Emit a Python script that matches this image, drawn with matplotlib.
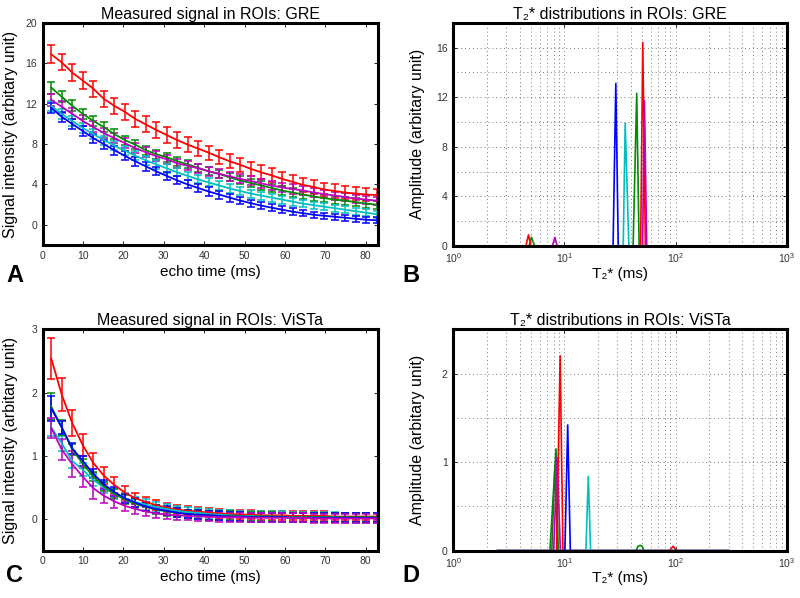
import matplotlib
matplotlib.use("Agg")
import matplotlib.pyplot as plt
from matplotlib.ticker import MultipleLocator, LogLocator, NullFormatter

plt.rcParams['font.family'] = ['Liberation Sans', 'DejaVu Sans']

# echo times (ms)
te = [2.1, 4.7, 7.3, 9.9, 12.5, 15.1, 17.7, 20.3, 22.9, 25.5, 28.1, 30.7,
      33.3, 35.9, 38.5, 41.1, 43.7, 46.3, 48.9, 51.5, 54.1, 56.7, 59.3, 61.9,
      64.5, 67.1, 69.7, 72.3, 74.9, 77.5, 80.1, 82.7]

# --- GRE measured signal (panel A) ---
gre_red = [16.9, 16.1, 15.1, 14.3, 13.5, 12.5, 11.8, 11.2, 10.5, 9.95, 9.4, 8.9,
           8.4, 7.95, 7.55, 7.15, 6.7, 6.3, 5.95, 5.55, 5.2, 4.9, 4.55, 4.25,
           3.95, 3.75, 3.5, 3.35, 3.2, 3.1, 3.0, 2.95]
gre_red_err = [0.9, 0.8, 0.8, 0.8, 0.8, 0.8, 0.8, 0.8, 0.8, 0.8, 0.8, 0.75,
               0.75, 0.75, 0.75, 0.7, 0.7, 0.7, 0.7, 0.7, 0.7, 0.7, 0.7, 0.7,
               0.7, 0.7, 0.65, 0.65, 0.65, 0.6, 0.6, 0.6]
gre_green = [13.6, 12.7, 11.8, 11.0, 10.3, 9.7, 9.0, 8.4, 7.95, 7.4, 7.0, 6.7,
             6.3, 6.0, 5.65, 5.3, 5.05, 4.7, 4.4, 4.15, 3.9, 3.65, 3.4, 3.2,
             3.0, 2.8, 2.65, 2.5, 2.4, 2.25, 2.1, 2.0]
gre_green_err = [0.6, 0.55, 0.55, 0.5, 0.5, 0.5, 0.5, 0.45, 0.45, 0.45, 0.45, 0.45,
                 0.45, 0.4, 0.4, 0.4, 0.4, 0.4, 0.4, 0.4, 0.4, 0.4, 0.4, 0.4,
                 0.4, 0.4, 0.4, 0.4, 0.4, 0.4, 0.4, 0.4]
gre_magenta = [12.4, 11.7, 11.0, 10.3, 9.7, 9.1, 8.6, 8.1, 7.6, 7.2, 6.8, 6.5,
               6.1, 5.85, 5.6, 5.3, 5.05, 4.8, 4.55, 4.35, 4.1, 3.9, 3.7, 3.55,
               3.4, 3.2, 3.05, 2.9, 2.75, 2.6, 2.5, 2.4]
gre_magenta_err = [0.6, 0.6, 0.55, 0.55, 0.55, 0.5, 0.5, 0.5, 0.5, 0.5, 0.5, 0.45,
                   0.45, 0.45, 0.45, 0.45, 0.45, 0.45, 0.45, 0.45, 0.45, 0.45, 0.45, 0.45,
                   0.45, 0.45, 0.4, 0.4, 0.4, 0.4, 0.4, 0.4]
gre_cyan = [11.8, 11.0, 10.3, 9.6, 9.0, 8.4, 7.85, 7.35, 6.85, 6.4, 6.0, 5.6,
            5.2, 4.85, 4.5, 4.2, 3.9, 3.6, 3.35, 3.1, 2.9, 2.7, 2.5, 2.3,
            2.1, 1.95, 1.8, 1.65, 1.5, 1.35, 1.2, 1.05]
gre_cyan_err = [0.5, 0.5, 0.5, 0.5, 0.45, 0.45, 0.45, 0.45, 0.45, 0.45, 0.45, 0.45,
                0.4, 0.4, 0.4, 0.4, 0.4, 0.4, 0.4, 0.4, 0.4, 0.4, 0.4, 0.4,
                0.35, 0.35, 0.35, 0.35, 0.35, 0.35, 0.35, 0.35]
gre_blue = [11.6, 10.7, 10.0, 9.3, 8.6, 8.0, 7.4, 6.85, 6.3, 5.8, 5.3, 4.85,
            4.4, 4.0, 3.65, 3.3, 3.0, 2.7, 2.4, 2.15, 1.9, 1.7, 1.5, 1.3,
            1.15, 1.0, 0.9, 0.8, 0.7, 0.6, 0.5, 0.45]
gre_blue_err = [0.5, 0.5, 0.5, 0.45, 0.45, 0.45, 0.45, 0.45, 0.45, 0.45, 0.4, 0.4,
                0.4, 0.4, 0.4, 0.4, 0.4, 0.4, 0.35, 0.35, 0.35, 0.35, 0.35, 0.35,
                0.3, 0.3, 0.3, 0.3, 0.3, 0.3, 0.3, 0.3]

# --- ViSTa measured signal (panel C) ---
vis_red = [2.54, 1.97, 1.52, 1.17, 0.89, 0.69, 0.54, 0.42, 0.33, 0.27, 0.22, 0.18,
           0.15, 0.13, 0.12, 0.1, 0.09, 0.08, 0.07, 0.07, 0.06, 0.06, 0.06, 0.05,
           0.05, 0.05, 0.05, 0.04, 0.04, 0.04, 0.04, 0.04]
vis_red_err = [0.33, 0.26, 0.2, 0.17, 0.16, 0.14, 0.12, 0.1, 0.09, 0.08, 0.08, 0.08,
               0.07, 0.07, 0.07, 0.07, 0.07, 0.07, 0.07, 0.07, 0.07, 0.07, 0.07, 0.07,
               0.07, 0.07, 0.07, 0.06, 0.06, 0.06, 0.06, 0.06]
vis_green = [1.78, 1.45, 1.1, 0.88, 0.67, 0.52, 0.4, 0.31, 0.24, 0.19, 0.15, 0.12,
             0.1, 0.08, 0.07, 0.06, 0.05, 0.05, 0.04, 0.04, 0.04, 0.04, 0.03, 0.03,
             0.03, 0.03, 0.03, 0.03, 0.03, 0.03, 0.03, 0.03]
vis_green_err = [0.22, 0.12, 0.08, 0.07, 0.07, 0.07, 0.07, 0.07, 0.07, 0.07, 0.07, 0.07,
                 0.07, 0.07, 0.07, 0.07, 0.07, 0.07, 0.07, 0.07, 0.07, 0.07, 0.07, 0.07,
                 0.07, 0.07, 0.07, 0.07, 0.07, 0.07, 0.07, 0.07]
vis_blue = [1.75, 1.45, 1.12, 0.92, 0.72, 0.55, 0.43, 0.33, 0.26, 0.2, 0.16, 0.13,
            0.1, 0.08, 0.07, 0.06, 0.05, 0.04, 0.04, 0.03, 0.03, 0.03, 0.03, 0.02,
            0.02, 0.02, 0.02, 0.02, 0.02, 0.02, 0.02, 0.02]
vis_blue_err = [0.2, 0.1, 0.09, 0.08, 0.07, 0.07, 0.07, 0.07, 0.07, 0.07, 0.07, 0.07,
                0.07, 0.07, 0.07, 0.07, 0.07, 0.07, 0.07, 0.07, 0.07, 0.07, 0.07, 0.07,
                0.07, 0.07, 0.07, 0.07, 0.07, 0.07, 0.07, 0.07]
vis_cyan = [1.45, 1.2, 0.92, 0.78, 0.62, 0.5, 0.4, 0.33, 0.27, 0.23, 0.19, 0.16,
            0.13, 0.11, 0.1, 0.08, 0.07, 0.06, 0.05, 0.05, 0.04, 0.04, 0.04, 0.03,
            0.03, 0.03, 0.03, 0.03, 0.02, 0.02, 0.02, 0.02]
vis_cyan_err = [0.13, 0.12, 0.11, 0.1, 0.09, 0.08, 0.08, 0.08, 0.08, 0.08, 0.08, 0.08,
                0.08, 0.08, 0.08, 0.08, 0.08, 0.08, 0.08, 0.08, 0.08, 0.08, 0.08, 0.08,
                0.08, 0.08, 0.08, 0.08, 0.08, 0.08, 0.08, 0.08]
vis_magenta = [1.44, 1.1, 0.87, 0.67, 0.49, 0.37, 0.28, 0.21, 0.16, 0.12, 0.09, 0.07,
               0.06, 0.05, 0.04, 0.04, 0.03, 0.03, 0.03, 0.02, 0.02, 0.02, 0.02, 0.02,
               0.02, 0.01, 0.01, 0.01, 0.01, 0.01, 0.01, 0.01]
vis_magenta_err = [0.16, 0.16, 0.21, 0.17, 0.17, 0.12, 0.1, 0.08, 0.08, 0.07, 0.07, 0.07,
                   0.07, 0.07, 0.07, 0.07, 0.07, 0.07, 0.07, 0.07, 0.07, 0.07, 0.07, 0.07,
                   0.07, 0.07, 0.07, 0.07, 0.07, 0.07, 0.07, 0.07]

# --- T2* distributions, GRE (panel B) ---
gre_dist_blue_t2 = [2.5, 27.4, 29.0, 30.5, 300]
gre_dist_blue = [0, 0, 13.1, 0, 0]
gre_dist_cyan_t2 = [2.5, 33.8, 35.2, 38.0, 300]
gre_dist_cyan = [0, 0, 9.9, 0, 0]
gre_dist_green_t2 = [2.5, 4.8, 5.05, 5.4, 41.5, 44.7, 47.0, 300]
gre_dist_green = [0, 0, 0.7, 0, 0, 12.3, 0, 0]
gre_dist_red_t2 = [2.5, 4.5, 4.75, 5.0, 48.5, 50.7, 53.5, 300]
gre_dist_red = [0, 0, 0.9, 0, 0, 16.4, 0, 0]
gre_dist_magenta_t2 = [2.5, 7.8, 8.2, 8.6, 50.5, 52.5, 55.0, 300]
gre_dist_magenta = [0, 0, 0.7, 0, 0, 11.7, 0, 0]

# --- T2* distributions, ViSTa (panel D) ---
vis_dist_gray_t2 = [2.5, 7.7, 8.2, 8.7, 300]
vis_dist_gray = [0, 0, 0.95, 0, 0]
vis_dist_green_t2 = [2.5, 7.4, 8.4, 8.8, 44.0, 46.0, 48.0, 50.0, 52.0, 300]
vis_dist_green = [0, 0, 1.15, 0, 0, 0.05, 0.06, 0.05, 0, 0]
vis_dist_magenta_t2 = [2.5, 8.0, 8.6, 9.2, 300]
vis_dist_magenta = [0, 0, 1.05, 0, 0]
vis_dist_red_t2 = [2.5, 8.5, 9.15, 9.7, 88.0, 95.0, 102.0, 300]
vis_dist_red = [0, 0, 2.2, 0, 0, 0.05, 0, 0]
vis_dist_blue_t2 = [2.5, 10.1, 10.7, 11.3, 300]
vis_dist_blue = [0, 0, 1.42, 0, 0]
vis_dist_cyan_t2 = [2.5, 15.6, 16.4, 17.2, 300]
vis_dist_cyan = [0, 0, 0.84, 0, 0]

RED = '#ff0000'
GREEN = '#008c00'
BLUE = '#0000ff'
CYAN = '#00bfbf'
MAGENTA = '#bf00bf'
GRAY = '#505050'

fig = plt.figure(figsize=(8.0, 5.98), dpi=100)
axA = fig.add_axes([0.0534, 0.5903, 0.419, 0.3712])
axB = fig.add_axes([0.5666, 0.5886, 0.4168, 0.3734])
axC = fig.add_axes([0.0534, 0.0791, 0.419, 0.3702])
axD = fig.add_axes([0.5666, 0.0791, 0.4168, 0.3702])


def style(ax):
    for s in ax.spines.values():
        s.set_linewidth(2.2)
        s.set_zorder(5)
    ax.tick_params(direction='in', top=True, right=True, labelsize=7.5,
                   labelcolor='#333333', length=3, width=0.6, pad=4)
    ax.tick_params(which='minor', direction='in', top=True, right=True,
                   length=1.5, width=0.5)


def signal(ax, series, title, ylim, yticks):
    for y, e, c in series:
        ax.errorbar(te, y, yerr=e, color=c, lw=1.3, elinewidth=1.1,
                    capsize=3, capthick=1.1)
    ax.set_xlim(0, 83)
    ax.set_ylim(*ylim)
    ax.set_xticks([0, 10, 20, 30, 40, 50, 60, 70, 80])
    ax.set_yticks(yticks)
    ax.set_title(title, fontsize=11.5, pad=3)
    ax.set_xlabel('echo time (ms)', fontsize=11, labelpad=3)
    ax.set_ylabel('Signal intensity (arbitary unit)', fontsize=11.5)
    ax.yaxis.set_label_coords(-0.073, 0.5)
    style(ax)


def dist(ax, series, title, ylim, yticks, yminor):
    for t2, a, c in series:
        ax.plot(t2, a, color=c, lw=1.2)
    ax.set_xscale('log')
    ax.set_xlim(1, 1000)
    ax.set_ylim(*ylim)
    ax.set_yticks(yticks)
    ax.yaxis.set_minor_locator(MultipleLocator(yminor))
    ax.xaxis.set_major_locator(LogLocator(base=10, numticks=10))
    ax.xaxis.set_minor_locator(LogLocator(base=10, subs=range(2, 10), numticks=30))
    ax.xaxis.set_minor_formatter(NullFormatter())
    ax.grid(True, which='both', linestyle=(0, (1, 3)), color='#777777', lw=0.7)
    ax.set_axisbelow(True)
    ax.set_title(title, fontsize=11.5, pad=3)
    ax.set_xlabel('T\u2082* (ms)', fontsize=11, labelpad=1)
    ax.set_ylabel('Amplitude (arbitary unit)', fontsize=11.5)
    ax.yaxis.set_label_coords(-0.085, 0.5)
    style(ax)
    ax.tick_params(which='minor', length=0)


signal(axA, [(gre_red, gre_red_err, RED), (gre_green, gre_green_err, GREEN),
             (gre_magenta, gre_magenta_err, MAGENTA), (gre_cyan, gre_cyan_err, CYAN),
             (gre_blue, gre_blue_err, BLUE)],
       'Measured signal in ROIs: GRE', (-2, 20), [0, 4, 8, 12, 16, 20])
signal(axC, [(vis_red, vis_red_err, RED), (vis_cyan, vis_cyan_err, CYAN),
             (vis_green, vis_green_err, GREEN), (vis_blue, vis_blue_err, BLUE),
             (vis_magenta, vis_magenta_err, MAGENTA)],
       'Measured signal in ROIs: ViSTa', (-0.5, 3), [0, 1, 2, 3])

dist(axB, [(gre_dist_blue_t2, gre_dist_blue, BLUE),
           (gre_dist_cyan_t2, gre_dist_cyan, CYAN),
           (gre_dist_green_t2, gre_dist_green, GREEN),
           (gre_dist_red_t2, gre_dist_red, RED),
           (gre_dist_magenta_t2, gre_dist_magenta, MAGENTA)],
     'T\u2082* distributions in ROIs: GRE', (0, 18), [0, 4, 8, 12, 16], 2)
dist(axD, [(vis_dist_gray_t2, vis_dist_gray, GRAY),
           (vis_dist_green_t2, vis_dist_green, GREEN),
           (vis_dist_magenta_t2, vis_dist_magenta, MAGENTA),
           (vis_dist_red_t2, vis_dist_red, RED),
           (vis_dist_blue_t2, vis_dist_blue, BLUE),
           (vis_dist_cyan_t2, vis_dist_cyan, CYAN)],
     'T\u2082* distributions in ROIs: ViSTa', (0, 2.5), [0, 1, 2], 0.5)

for lab, x, y in [('A', 0.008, 0.54), ('B', 0.503, 0.54),
                  ('C', 0.008, 0.038), ('D', 0.503, 0.038)]:
    fig.text(x, y, lab, fontsize=17, fontweight='bold', va='center', ha='left')

fig.savefig('out.png', dpi=100)
